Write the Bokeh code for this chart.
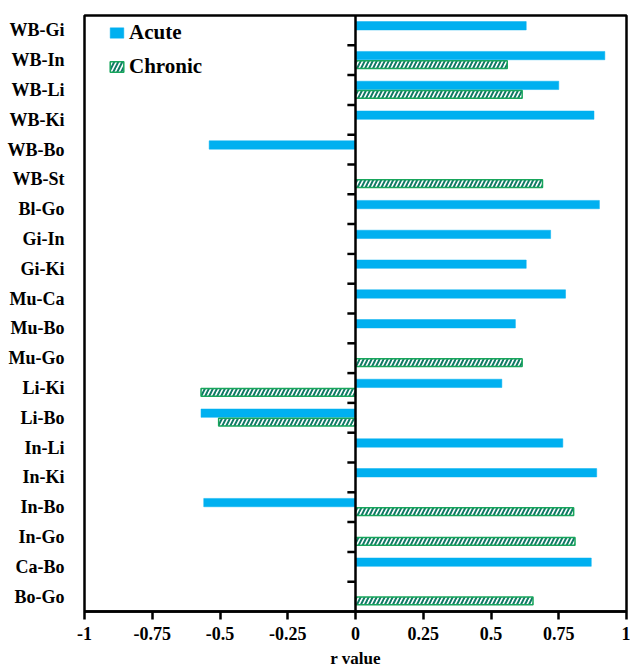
from bokeh.plotting import figure
from bokeh.models import (ColumnDataSource, FactorRange, Range1d, Span, FixedTicker,
                          Legend, LegendItem)
from bokeh.transform import dodge
from bokeh.embed import file_html
from bokeh.resources import INLINE

categories = ["WB-Gi", "WB-In", "WB-Li", "WB-Ki", "WB-Bo", "WB-St", "Bl-Go", "Gi-In",
              "Gi-Ki", "Mu-Ca", "Mu-Bo", "Mu-Go", "Li-Ki", "Li-Bo", "In-Li", "In-Ki",
              "In-Bo", "In-Go", "Ca-Bo", "Bo-Go"]
acute = [0.63, 0.92, 0.75, 0.88, -0.54, None, 0.90, 0.72, 0.63, 0.775, 0.59, None,
         0.54, -0.57, 0.765, 0.89, -0.56, None, 0.87, None]
chronic = [None, 0.56, 0.615, None, None, 0.69, None, None, None, None, None, 0.615,
           -0.57, -0.505, None, None, 0.805, 0.81, None, 0.655]
x_ticks = [-1, -0.75, -0.5, -0.25, 0, 0.25, 0.5, 0.75, 1]
x_tick_labels = ["-1", "-0.75", "-0.5", "-0.25", "0", "0.25", "0.5", "0.75", "1"]

FONT = "Liberation Serif"
ACUTE_C = "#00b0f0"
HATCH_C = "#117a65"
EDGE_C = "#18a65c"

p = figure(width=630, height=670, output_backend="svg", toolbar_location=None,
           y_range=FactorRange(factors=categories[::-1], range_padding=0),
           x_range=Range1d(-1, 1),
           min_border_left=84, min_border_right=4, min_border_top=15, min_border_bottom=10)

p.xgrid.visible = False
p.ygrid.visible = False
p.outline_line_color = "black"
p.outline_line_width = 2.5
p.background_fill_color = "white"

a_src = ColumnDataSource(dict(cat=[c for c, v in zip(categories, acute) if v is not None],
                              val=[v for v in acute if v is not None]))
c_src = ColumnDataSource(dict(cat=[c for c, v in zip(categories, chronic) if v is not None],
                              val=[v for v in chronic if v is not None]))

r_a = p.hbar(y=dodge("cat", 0.155, range=p.y_range), left=0, right="val", height=0.28,
             source=a_src, fill_color=ACUTE_C, line_color=ACUTE_C, line_width=0.5)
r_c = p.hbar(y=dodge("cat", -0.145, range=p.y_range), left=0, right="val", height=0.26,
             source=c_src, fill_color="white", line_color=EDGE_C, line_width=1.5,
             hatch_pattern="/", hatch_color=HATCH_C, hatch_scale=8, hatch_weight=2)

# zero axis line with ticks between categories
p.add_layout(Span(location=0, dimension="height", line_color="black", line_width=2.5))
t_src = ColumnDataSource(dict(cat=categories[:-1], x0=[-0.03] * (len(categories) - 1),
                              x1=[0] * (len(categories) - 1)))
p.segment(x0="x0", x1="x1", y0=dodge("cat", -0.5, range=p.y_range),
          y1=dodge("cat", -0.5, range=p.y_range), source=t_src,
          line_color="black", line_width=2.5)

ya = p.yaxis[0]
ya.axis_line_color = None
ya.major_tick_line_color = None
ya.minor_tick_line_color = None
ya.major_label_text_font = FONT
ya.major_label_text_font_style = "bold"
ya.major_label_text_font_size = "18px"
ya.major_label_text_color = "black"
ya.major_label_standoff = 14

xa = p.xaxis[0]
xa.ticker = FixedTicker(ticks=x_ticks)
xa.major_label_overrides = {t: l for t, l in zip(x_ticks, x_tick_labels)}
xa.major_label_text_font = FONT
xa.major_label_text_font_style = "bold"
xa.major_label_text_font_size = "18px"
xa.major_label_text_color = "black"
xa.major_label_standoff = 7
xa.major_tick_in = 0
xa.major_tick_out = 8
xa.major_tick_line_width = 2.5
xa.major_tick_line_color = "black"
xa.minor_tick_line_color = None
xa.axis_line_color = "black"
xa.axis_line_width = 2.5
xa.axis_label = "r value"
xa.axis_label_text_font = FONT
xa.axis_label_text_font_style = "bold"
xa.axis_label_text_font_size = "17px"
xa.axis_label_text_color = "black"
xa.axis_label_standoff = 6

legend = Legend(items=[LegendItem(label="Acute", renderers=[r_a]),
                       LegendItem(label="Chronic", renderers=[r_c])],
                location=(24, 532), orientation="vertical",
                label_text_font=FONT, label_text_font_style="bold",
                label_text_font_size="21px", label_text_color="black",
                glyph_width=17, glyph_height=13, label_height=18, label_standoff=4,
                spacing=9, padding=0, margin=0,
                border_line_color=None, background_fill_alpha=0)
p.add_layout(legend)

open("out.html", "w").write(file_html(p, INLINE))
